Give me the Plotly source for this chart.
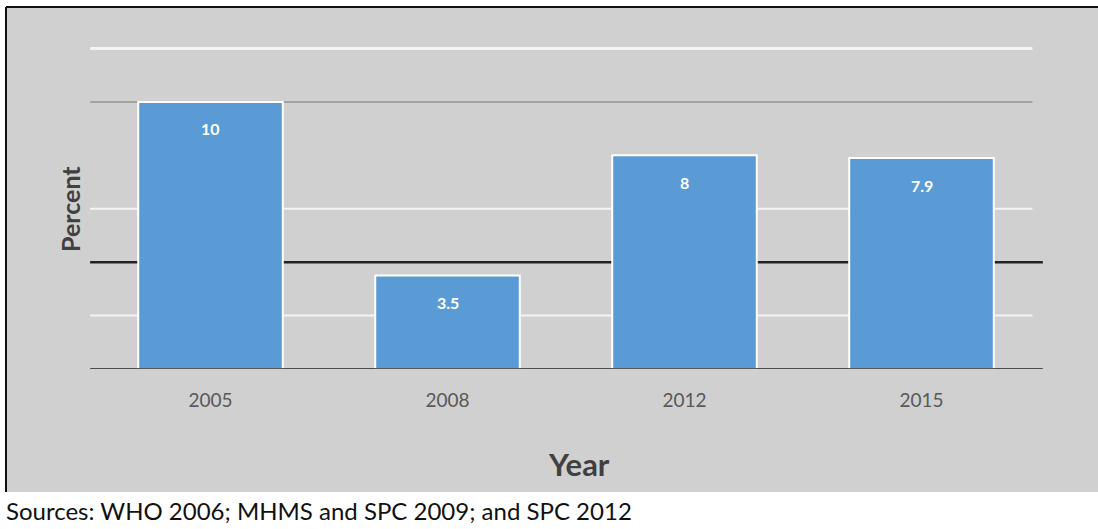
import plotly.graph_objects as go

years = ["2005", "2008", "2012", "2015"]
percent = [10, 3.5, 8, 7.9]
labels = ["10", "3.5", "8", "7.9"]
grid_white = [2, 6, 12]
grid_dark = [4]
grid_gray = [10]

W, H = 1098, 529
L, R, T, B = 92, 58, 40, 160
pw, ph = W - L - R, H - T - B
ymax = 12.32

def px_x(p):
    return (p - L) / pw

def px_y(p):
    return (H - B - p) / ph

fig = go.Figure()
fig.add_trace(go.Bar(
    x=years, y=percent,
    marker=dict(color="#5b9bd5", line=dict(color="white", width=2)),
    hoverinfo="skip",
))

shapes = []
# gray panel
shapes.append(dict(type="rect", xref="paper", yref="paper",
                   x0=px_x(6), x1=px_x(W + 5), y0=px_y(492), y1=px_y(7),
                   fillcolor="#d0d0d0", line=dict(width=0), layer="below"))
# borders
shapes.append(dict(type="line", xref="paper", yref="paper",
                   x0=px_x(6), x1=px_x(6), y0=px_y(492), y1=px_y(7),
                   line=dict(color="#111111", width=2), layer="below"))
shapes.append(dict(type="line", xref="paper", yref="paper",
                   x0=px_x(6), x1=px_x(W + 5), y0=px_y(7), y1=px_y(7),
                   line=dict(color="#111111", width=2), layer="below"))
for g in grid_white:
    shapes.append(dict(type="line", xref="paper", yref="y", x0=-0.002, x1=0.992,
                       y0=g, y1=g, line=dict(color="#f4f4f4", width=3 if g == 12 else 2),
                       layer="below"))
for g in grid_gray:
    shapes.append(dict(type="line", xref="paper", yref="y", x0=-0.002, x1=0.992,
                       y0=g, y1=g, line=dict(color="#a3a3a3", width=2), layer="below"))
for g in grid_dark:
    shapes.append(dict(type="line", xref="paper", yref="y", x0=-0.002, x1=1.003,
                       y0=g, y1=g, line=dict(color="#222222", width=2.5), layer="below"))
# baseline
shapes.append(dict(type="line", xref="paper", yref="y", x0=-0.002, x1=1.003,
                   y0=0, y1=0, line=dict(color="#222222", width=1.5), layer="above"))

annotations = []
for i, (v, t) in enumerate(zip(percent, labels)):
    annotations.append(dict(x=i, y=v, xref="x", yref="y", text="<b>" + t + "</b>",
                            showarrow=False, yshift=-27, xanchor="center", yanchor="middle",
                            font=dict(family="Lato", size=16, color="white")))
annotations.append(dict(x=px_x(579), y=px_y(464), xref="paper", yref="paper",
                        xanchor="center", yanchor="middle",
                        text="<b>Year</b>", showarrow=False,
                        font=dict(family="Lato", size=31, color="#404040")))
annotations.append(dict(x=px_x(70), y=px_y(209), xref="paper", yref="paper",
                        xanchor="center", yanchor="middle",
                        text="<b>Percent</b>", showarrow=False, textangle=-90,
                        font=dict(family="Lato", size=25, color="#404040")))
annotations.append(dict(x=px_x(4), y=px_y(510), xref="paper", yref="paper",
                        xanchor="left", yanchor="middle",
                        text="Sources: WHO 2006; MHMS and SPC 2009; and SPC 2012",
                        showarrow=False,
                        font=dict(family="Lato", size=24, color="#111111")))

fig.update_layout(
    width=W, height=H,
    margin=dict(l=L, r=R, t=T, b=B, pad=0),
    paper_bgcolor="white",
    plot_bgcolor="rgba(0,0,0,0)",
    showlegend=False,
    bargap=0.39,
    shapes=shapes,
    annotations=annotations,
    xaxis=dict(type="category", range=[-0.5, 3.5], showgrid=False, zeroline=False,
               showline=False, ticks="outside", ticklen=14, tickcolor="rgba(0,0,0,0)",
               tickfont=dict(family="Lato", size=19, color="#595959")),
    yaxis=dict(range=[0, ymax], showgrid=False, zeroline=False, showline=False,
               showticklabels=False, ticks=""),
)

fig.write_html("out.html", config={"displayModeBar": False},
               post_script="document.body.style.margin='0';")
